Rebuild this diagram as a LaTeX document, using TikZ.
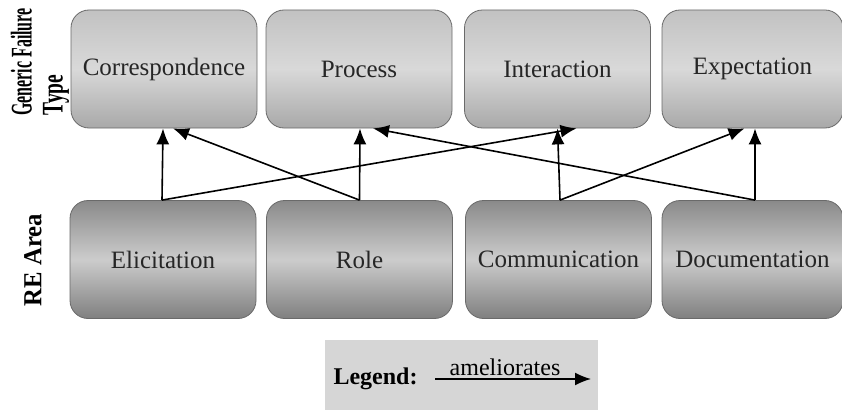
\documentclass[tikz,border=0pt]{standalone}
\usepackage{fontspec}
\setmainfont{Liberation Serif}
\usetikzlibrary{arrows.meta}

\definecolor{boxline}{HTML}{6A6A6A}
\definecolor{boxtext}{HTML}{262626}
\definecolor{legendgray}{HTML}{D6D6D6}

\tikzset{
  failure/.style={draw=boxline, line width=0.8pt, rounded corners=18pt,
    minimum width=186pt, minimum height=118pt, text=boxtext,
    top color=black!24, bottom color=black!34, middle color=black!15,
    font=\fontsize{25}{28}\selectfont},
  area/.style={failure, top color=black!46, bottom color=black!50,
    middle color=black!20},
  sidelabel/.style={rotate=90, align=left, font=\fontsize{30}{31}\selectfont\bfseries},
  ameliorates/.style={-{Latex[length=16pt,width=13pt]}, line width=1.6pt}
}

\begin{document}
\begin{tikzpicture}[x=1pt, y=-1pt]
\useasboundingbox (0,0) rectangle (842,409);

% generic failure types
\node[failure] (corr) at (164,69) {Correspondence};
\node[failure] (proc) at (359,69) {Process};
\node[failure] (inter) at (557.5,69) {Interaction};
\node[failure, minimum width=181pt] (expect) at (752.5,69) {Expectation};

% RE areas
\node[area] (elic) at (163,259.5) {Elicitation};
\node[area] (role) at (359.5,259.5) {Role};
\node[area] (comm) at (558.5,259.5) {Communication};
\node[area, minimum width=181pt] (docu) at (752.5,259.5) {Documentation};

\node[sidelabel] (gft) at (40,62) {\scalebox{0.53}[1]{Generic Failure}\\\scalebox{0.65}[1]{Type}};
\node[sidelabel, font=\fontsize{26}{28}\selectfont\bfseries] (rea) at (33,260) {\scalebox{0.95}[1]{RE Area}};

% ameliorates links
\draw[ameliorates] ([xshift=-1pt]elic.north) -- ([xshift=-1pt]corr.south);
\draw[ameliorates] ([xshift=-1pt]elic.north) -- ([xshift=19pt]inter.south);
\draw[ameliorates] (role.north) -- ([xshift=9pt]corr.south);
\draw[ameliorates] (role.north) -- ([xshift=1pt]proc.south);
\draw[ameliorates] ([xshift=1.5pt]comm.north) -- (inter.south);
\draw[ameliorates] ([xshift=1.5pt]comm.north) -- ([xshift=-8pt]expect.south);
\draw[ameliorates] ([xshift=2.5pt]docu.north) -- ([xshift=14pt]proc.south);
\draw[ameliorates] ([xshift=2.5pt]docu.north) -- ([xshift=2.5pt]expect.south);

% legend
\node[fill=legendgray, minimum width=273pt, minimum height=70pt, inner sep=0pt] (legend) at (461.5,375) {};
\node[font=\fontsize{24}{28}\selectfont\bfseries, anchor=west] (legtext) at (330,379) {Legend:};
\coordinate (amstart) at (435,379);
\coordinate (amend) at (591,379);
\draw[ameliorates] (amstart) -- (amend) node[midway, above, xshift=-8pt, inner sep=2pt, font=\fontsize{24}{26}\selectfont] {ameliorates};

\end{tikzpicture}
\end{document}
